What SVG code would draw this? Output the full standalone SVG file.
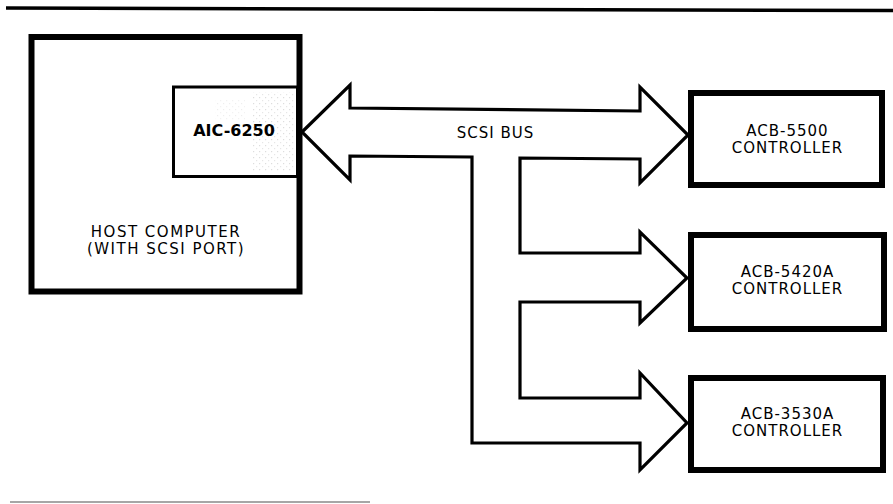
<svg xmlns="http://www.w3.org/2000/svg" width="893" height="504" viewBox="0 0 893 504">
<style>
.box{fill:#fff;stroke:#000;stroke-width:6}
.inner{fill:#fff;stroke:#000;stroke-width:3}
.bus{fill:#fff;stroke:#000;stroke-width:3.2;stroke-linejoin:miter}
.t{font-family:"DejaVu Sans","Liberation Sans",sans-serif;font-size:15px;letter-spacing:1px;fill:#000;text-anchor:middle}
.h{letter-spacing:1.5px}
.b{font-weight:bold;font-size:16px;letter-spacing:0}
</style>
<defs>
<pattern id="stip" width="6" height="6" patternUnits="userSpaceOnUse">
<rect x="1" y="1" width="1.2" height="1.2" fill="#bbb"/>
<rect x="4" y="4" width="1.2" height="1.2" fill="#ccc"/>
</pattern>
</defs>
<rect width="893" height="504" fill="#fff"/>
<line x1="6" y1="8" x2="893" y2="10.5" stroke="#000" stroke-width="3.5"/>
<line x1="10" y1="502" x2="370" y2="502" stroke="#888" stroke-width="1.5"/>
<g id="host">
<rect class="box" x="31.5" y="37" width="268" height="254.5"/>
<text class="t h" x="166" y="236.5">HOST COMPUTER</text>
<text class="t h" x="166" y="254">(WITH SCSI PORT)</text>
</g>
<g id="aic6250">
<rect class="inner" x="173.5" y="87" width="124" height="89.5"/>
<rect x="252" y="92" width="42" height="80" fill="url(#stip)" opacity="0.5"/>
<rect x="215" y="100" width="30" height="20" fill="url(#stip)" opacity="0.25"/>
<text class="t b" x="234" y="136">AIC-6250</text>
</g>
<g id="connectors">
<polygon class="bus" points="302,132 350,85 350,108 640,111 640,87 688,135 640,183 640,159 520,158 520,253 640,253 640,232 687,278 640,323 640,302 520,302 520,398 640,398 640,373 687,423 640,470 640,443 472,443 472,157 350,156 350,180"/>
<text class="t" x="495.5" y="138">SCSI BUS</text>
</g>
<g id="acb5500">
<rect class="box" x="691" y="93" width="191" height="92"/>
<text class="t" x="787.5" y="135.5">ACB-5500</text>
<text class="t" x="787.5" y="153">CONTROLLER</text>
</g>
<g id="acb5420a">
<rect class="box" x="691" y="235" width="193" height="94"/>
<text class="t" x="787.5" y="276.5">ACB-5420A</text>
<text class="t" x="787.5" y="294">CONTROLLER</text>
</g>
<g id="acb3530a">
<rect class="box" x="691" y="378" width="192" height="92"/>
<text class="t" x="787.5" y="418.5">ACB-3530A</text>
<text class="t" x="787.5" y="436">CONTROLLER</text>
</g>
</svg>
